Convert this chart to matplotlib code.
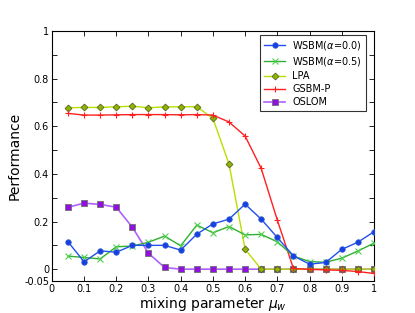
import matplotlib
matplotlib.use("Agg")
import matplotlib.pyplot as plt
import numpy as np

mu = [0.05, 0.1, 0.15, 0.2, 0.25, 0.3, 0.35, 0.4, 0.45, 0.5,
      0.55, 0.6, 0.65, 0.7, 0.75, 0.8, 0.85, 0.9, 0.95, 1.0]
wsbm0 = [0.115, 0.031, 0.077, 0.071, 0.100, 0.100, 0.100, 0.080, 0.147, 0.190,
         0.210, 0.273, 0.210, 0.133, 0.056, 0.021, 0.028, 0.083, 0.113, 0.157]
wsbm05 = [0.055, 0.049, 0.043, 0.094, 0.097, 0.113, 0.139, 0.098, 0.185, 0.153,
          0.179, 0.144, 0.146, 0.115, 0.055, 0.032, 0.029, 0.046, 0.076, 0.109]
lpa = [0.678, 0.679, 0.679, 0.682, 0.684, 0.678, 0.681, 0.682, 0.682, 0.633,
       0.442, 0.084, 0.0, 0.0, 0.0, 0.0, 0.0, 0.0, 0.0, 0.0]
gsbm = [0.654, 0.647, 0.647, 0.648, 0.649, 0.649, 0.649, 0.648, 0.649, 0.647,
        0.618, 0.559, 0.423, 0.206, 0.003, -0.001, -0.003, -0.005, -0.010, -0.018]
oslom = [0.260, 0.277, 0.272, 0.260, 0.176, 0.067, 0.007, 0.0, 0.0, 0.0,
         0.0, 0.0, 0.0, 0.0, 0.0, 0.0, 0.0, 0.0, 0.0, 0.0]

x_ticks = [0, 0.1, 0.2, 0.3, 0.4, 0.5, 0.6, 0.7, 0.8, 0.9, 1]
x_labels = ["0", "0.1", "0.2", "0.3", "0.4", "0.5", "0.6", "0.7", "0.8", "0.9", "1"]
y_ticks = [-0.05, 0, 0.2, 0.4, 0.6, 0.8, 1]
y_labels = ["-0.05", "0", "0.2", "0.4", "0.6", "0.8", "1"]
y_minor = [0.1, 0.3, 0.5, 0.7, 0.9]

fig = plt.figure(figsize=(4.15, 3.13), dpi=100)
ax = fig.add_axes([0.125, 0.102, 0.776, 0.799])

ax.plot(mu, oslom, '-', color='#b060ff', lw=1.2, marker='s', ms=4,
        mfc='#9010e0', mec='#707070', mew=0.6, label='OSLOM', zorder=2)
ax.plot(mu, lpa, '-', color='#b8e000', lw=1.0, marker='D', ms=3.5,
        mfc='#88b800', mec='#606020', mew=0.6, label='LPA', zorder=3)
ax.plot(mu, gsbm, '-', color='#ff2020', lw=1.0, marker='+', ms=5,
        mew=0.8, label='GSBM-P', zorder=4)
ax.plot(mu, wsbm05, '-', color='#30b030', lw=1.0, marker='x', ms=4,
        mec='#50d050', mew=0.8, label=r'WSBM($\alpha$=0.5)', zorder=5)
ax.plot(mu, wsbm0, '-', color='#2050f0', lw=1.0, marker='o', ms=4,
        mfc='#1840e0', mec='#3060d0', mew=0.5, label=r'WSBM($\alpha$=0.0)', zorder=6)

ax.set_xlim(0, 1)
ax.set_ylim(-0.05, 1)
ax.set_xticks(x_ticks)
ax.set_xticklabels(x_labels, fontsize=7)
ax.set_yticks(y_ticks)
ax.set_yticklabels(y_labels, fontsize=7)
ax.set_yticks(y_minor, minor=True)
ax.tick_params(which='both', direction='in', top=True, right=True, length=3.5, width=0.6, pad=2)
for s in ax.spines.values():
    s.set_linewidth(0.8)

ax.set_xlabel(r'mixing parameter $\mu_w$', fontsize=10, labelpad=1)
ax.set_ylabel('Performance', fontsize=10, labelpad=2)

handles, labels = ax.get_legend_handles_labels()
order = [4, 3, 1, 2, 0]
leg = ax.legend([handles[i] for i in order], [labels[i] for i in order],
                loc='upper right', fontsize=7, frameon=True, fancybox=False,
                borderpad=0.4, labelspacing=0.3, handlelength=2.2,
                handletextpad=0.7, borderaxespad=0.2,
                bbox_to_anchor=(0.981, 0.99))
leg.get_frame().set_edgecolor('black')
leg.get_frame().set_linewidth(0.8)

fig.savefig('out.png', dpi=100, facecolor='white')
